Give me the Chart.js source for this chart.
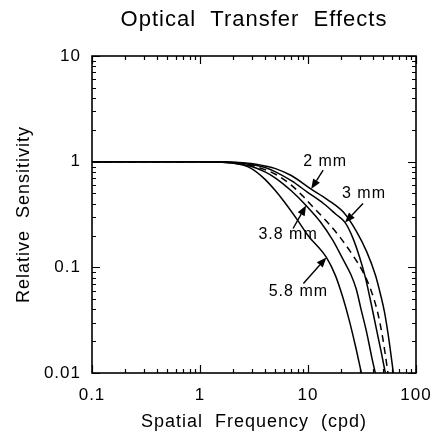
<!DOCTYPE html>
<html>
<head>
<meta charset="utf-8">
<title>Optical Transfer Effects</title>
<script src="https://cdn.jsdelivr.net/npm/chart.js@4.4.1/dist/chart.umd.min.js"></script>
<style>
  html, body { margin: 0; padding: 0; background: #fff; }
  #otf { display: block; }
</style>
</head>
<body>
<canvas id="otf" width="447" height="442"></canvas>
<script>
"use strict";

// modulation transfer per pupil size, frequency in cycles/deg
const freq2mm = [0.1, 1, 2, 3, 4, 5, 7, 10.7, 15, 22, 28, 35, 42, 47, 51, 56, 61.7];
const sens2mm = [1, 1, 0.99, 0.96, 0.91, 0.86, 0.74, 0.55, 0.44, 0.32, 0.22, 0.14, 0.085, 0.055, 0.038, 0.021, 0.01];

const freq3mm = [0.1, 1, 2, 3, 4, 5, 7, 10, 14, 18, 22, 26, 30, 34, 38.5, 43, 47.5, 52];
const sens3mm = [1, 1, 0.99, 0.94, 0.88, 0.8, 0.66, 0.51, 0.4, 0.32, 0.266, 0.19, 0.125, 0.08, 0.045, 0.026, 0.016, 0.01];

const freqDashed = [0.1, 1, 2, 3, 4, 5, 7, 9, 11.2, 15, 20, 26, 32, 38, 44, 49, 53, 55];
const sensDashed = [1, 1, 0.98, 0.92, 0.84, 0.76, 0.6, 0.47, 0.37, 0.27, 0.19, 0.13, 0.092, 0.062, 0.038, 0.022, 0.013, 0.01];

const freq38mm = [0.1, 1, 2, 3, 4, 5, 7, 9.6, 13, 17, 21, 25, 28, 31, 35, 39, 42];
const sens38mm = [1, 1, 0.97, 0.9, 0.8, 0.7, 0.53, 0.385, 0.27, 0.18, 0.12, 0.085, 0.062, 0.04, 0.024, 0.014, 0.01];

const freq58mm = [0.1, 1, 2, 3, 4, 5, 6, 8, 10, 14.8, 18, 21, 24, 27.5, 31.2];
const sens58mm = [1, 1, 0.97, 0.86, 0.68, 0.53, 0.42, 0.28, 0.2, 0.124, 0.083, 0.052, 0.032, 0.018, 0.01];

const pupilLabels = ['2 mm', '3 mm', '3.8 mm', '5.8 mm'];

const xDecades = [0.1, 1, 10, 100];
const xTickLabels = ['0.1', '1', '10', '100'];
const yDecades = [0.01, 0.1, 1, 10];
const yTickLabels = ['0.01', '0.1', '1', '10'];

const FONT = '"Liberation Sans", Arial, Helvetica, sans-serif';

function zip(xs, ys) {
    return xs.map((x, i) => ({ x: x, y: ys[i] }));
}

// 1..9 within each decade, decade values flagged as major
function logTicks(decades) {
    const out = [];
    decades.forEach((d, i) => {
        if (i === decades.length - 1) {
            out.push({ value: d, major: true });
            return;
        }
        for (let m = 1; m < 10; m++) {
            out.push({ value: d * m, major: m === 1 });
        }
    });
    return out;
}

function line(label, xs, ys, dash) {
    return {
        label: label,
        data: zip(xs, ys),
        borderColor: '#000',
        borderWidth: 1.5,
        borderDash: dash || [],
        pointRadius: 0,
        fill: false,
        cubicInterpolationMode: 'monotone'
    };
}

// arrow from each label to its curve; tip sits on a data point of the series
const callouts = [
    { text: pupilLabels[0], series: 4, point: 7, tail: [12, -19], label: [14, -28] },
    { text: pupilLabels[1], series: 3, point: 10, tail: [18, -19], label: [19, -29] },
    { text: pupilLabels[2], series: 1, point: 7, tail: [-13, 23], label: [-18, 29] },
    { text: pupilLabels[3], series: 0, point: 9, tail: [-23, 26], label: [-28, 34] }
];

const textSpacing = {
    id: 'textSpacing',
    beforeUpdate(chart) {
        chart.ctx.letterSpacing = '1px';
    },
    beforeDraw(chart) {
        chart.ctx.letterSpacing = '1px';
    }
};

const frameTicks = {
    id: 'frameTicks',
    afterDatasetsDraw(chart) {
        const { ctx, chartArea, scales } = chart;
        const { left, right, top, bottom } = chartArea;
        ctx.save();
        ctx.strokeStyle = '#000';
        ctx.lineWidth = 1.2;
        ctx.beginPath();
        scales.x.ticks.forEach(t => {
            const px = Math.round(scales.x.getPixelForValue(t.value)) + 0.5;
            const len = t.major ? 8 : 4;
            ctx.moveTo(px, bottom); ctx.lineTo(px, bottom - len);
            ctx.moveTo(px, top); ctx.lineTo(px, top + len);
        });
        scales.y.ticks.forEach(t => {
            const py = Math.round(scales.y.getPixelForValue(t.value)) + 0.5;
            const len = t.major ? 8 : 4;
            ctx.moveTo(left, py); ctx.lineTo(left + len, py);
            ctx.moveTo(right, py); ctx.lineTo(right - len, py);
        });
        ctx.stroke();
        ctx.lineWidth = 1.6;
        ctx.strokeRect(left, top, right - left, bottom - top);
        ctx.restore();
    }
};

const arrows = {
    id: 'arrows',
    afterDatasetsDraw(chart) {
        const ctx = chart.ctx;
        ctx.save();
        ctx.fillStyle = '#000';
        ctx.strokeStyle = '#000';
        ctx.font = '16px ' + FONT;
        ctx.textAlign = 'center';
        ctx.textBaseline = 'middle';
        callouts.forEach(c => {
            const pt = chart.getDatasetMeta(c.series).data[c.point];
            const tx = pt.x, ty = pt.y;
            const sx = tx + c.tail[0], sy = ty + c.tail[1];
            const ang = Math.atan2(ty - sy, tx - sx);
            const head = 10, half = 4;
            const bx = tx - head * Math.cos(ang), by = ty - head * Math.sin(ang);
            ctx.lineWidth = 1.4;
            ctx.beginPath();
            ctx.moveTo(sx, sy);
            ctx.lineTo(bx, by);
            ctx.stroke();
            ctx.beginPath();
            ctx.moveTo(tx, ty);
            ctx.lineTo(bx + half * Math.sin(ang), by - half * Math.cos(ang));
            ctx.lineTo(bx - half * Math.sin(ang), by + half * Math.cos(ang));
            ctx.closePath();
            ctx.fill();
            ctx.fillText(c.text, tx + c.label[0], ty + c.label[1]);
        });
        ctx.restore();
    }
};

Chart.defaults.font.family = FONT;
Chart.defaults.color = '#000';

new Chart(document.getElementById('otf'), {
    type: 'line',
    data: {
        datasets: [
            line(pupilLabels[3], freq58mm, sens58mm),
            line(pupilLabels[2], freq38mm, sens38mm),
            line('dashed', freqDashed, sensDashed, [7, 5]),
            line(pupilLabels[1], freq3mm, sens3mm),
            line(pupilLabels[0], freq2mm, sens2mm)
        ]
    },
    options: {
        responsive: false,
        animation: false,
        layout: {
            padding: { top: 0, right: 31, bottom: 0, left: 0 }
        },
        plugins: {
            legend: { display: false },
            tooltip: { enabled: false },
            title: {
                display: true,
                fullSize: false,
                text: 'Optical  Transfer  Effects',
                font: { size: 22, weight: 'normal' },
                padding: { top: 7, bottom: 22.6 }
            }
        },
        scales: {
            x: {
                type: 'logarithmic',
                min: 0.1,
                max: 100,
                afterBuildTicks: (scale) => { scale.ticks = logTicks(xDecades); },
                afterFit: (scale) => { scale.height = 69; },
                grid: { display: false, drawTicks: false },
                border: { display: false },
                ticks: {
                    autoSkip: false,
                    maxRotation: 0,
                    padding: 12,
                    font: { size: 17 },
                    callback: (v) => {
                        const i = xDecades.indexOf(v);
                        return i >= 0 ? xTickLabels[i] : '';
                    }
                },
                title: {
                    display: true,
                    text: 'Spatial  Frequency  (cpd)',
                    font: { size: 18 },
                    padding: { top: 0, bottom: 9 }
                }
            },
            y: {
                type: 'logarithmic',
                min: 0.01,
                max: 10,
                afterBuildTicks: (scale) => { scale.ticks = logTicks(yDecades); },
                afterFit: (scale) => { scale.width = 92; },
                grid: { display: false, drawTicks: false },
                border: { display: false },
                ticks: {
                    autoSkip: false,
                    padding: 11,
                    font: { size: 17 },
                    callback: (v) => {
                        const i = yDecades.indexOf(v);
                        return i >= 0 ? yTickLabels[i] : '';
                    }
                },
                title: {
                    display: true,
                    text: 'Relative  Sensitivity',
                    font: { size: 18 },
                    padding: { top: 13, bottom: 0 }
                }
            }
        }
    },
    plugins: [textSpacing, frameTicks, arrows]
});
</script>
</body>
</html>
